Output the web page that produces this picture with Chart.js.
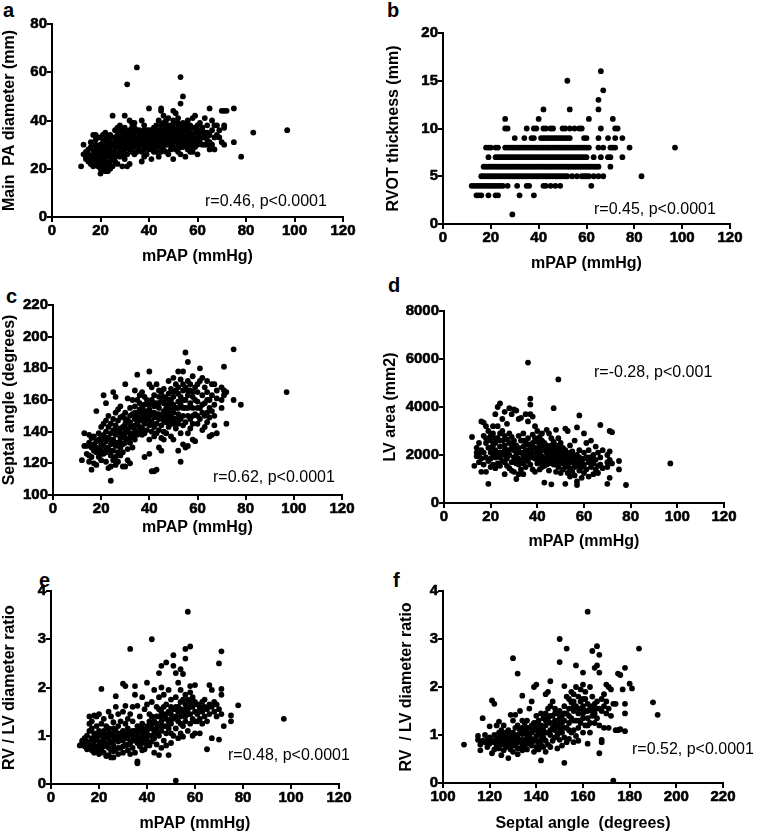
<!DOCTYPE html>
<html>
<head>
<meta charset="utf-8">
<script src="https://cdn.jsdelivr.net/npm/chart.js@4.4.0/dist/chart.umd.min.js"></script>
<style>
html,body{margin:0;padding:0;background:#fff;overflow:hidden;width:762px;height:832px;position:relative;}
canvas{position:absolute;}
.letter{position:absolute;font:bold 20px "Liberation Sans",Arial,sans-serif;line-height:20px;color:#000;}
</style>
</head>
<body>
<div class="letter" style="left:3px;top:0px">a</div>
<div class="letter" style="left:387px;top:0px">b</div>
<div class="letter" style="left:6px;top:286px">c</div>
<div class="letter" style="left:388px;top:275px">d</div>
<div class="letter" style="left:39px;top:570px">e</div>
<div class="letter" style="left:393px;top:570px">f</div>

<script>
// a : mPAP vs main PA diameter  [mPAP, diameter...]
var a_cols = [[12,21],[13,30,26],[14,27,25,24],[15,26,28,23],[16,25,29,22,31],[17,34,28,24,26,21],[18,34,30,27,22,25,32,29,24],
  [19,33,25,21,29,23,27],[20,18,20,27,30,24,33,22,26,29],[21,26,29,23,31,20,34],[22,35,27,21,25,30,32,19,28,23],[23,33,25,19,28,22,30],
  [24,31,23,20,27,34,26,29,25],[25,42,27,24,30,33,21],[26,33,27,29,36,23,31,30,25],[27,37,31,22,34,26,29],[28,38,29,32,25,35,27,31,33],
  [29,36,26,21,31,33,28],[30,42,24,30,34,28,37,32,26,35],[31,55,35,26,21,31,29,33],[32,40,33,22,28,36,30,31,34],[33,39,31,34,27,37,29],
  [34,37,29,32,35,26,39,30,33],[35,62,33,27,30,36,31],[36,36,28,33,31,34,30,35],[37,40,32,23,30,35,27],[38,38,30,25,33,36,32,28,34],
  [39,34,26,31,29,36],[40,45,31,34,28,36,33,30,32],[41,36,28,24,32,30,34],[42,37,30,33,35,27,31,29,34],[43,35,27,32,38,30],
  [44,33,25,40,29,36,31,34,32],[45,45,44,27,34,31,38,29],[46,42,36,28,33,39,31,35,30],[47,40,34,37,30,32,27],[48,41,32,26,35,38,30,33,36],
  [49,38,30,34,36,28,33],[50,44,24,33,37,29,31,35,40],[51,43,36,28,32,39,34],[52,41,39,30,35,33,27,32,37],[53,58,47,34,26,37,31,29],
  [54,50,32,29,36,39,34,31,38],[55,38,25,33,30,36],[56,40,36,28,32,34,30,38],[57,38,30,35,33,27],[58,41,34,27,37,31,33,29],[59,42,32,29,35,37],
  [60,26,35,31,33,38,30,36],[61,39,31,34],[62,36,33,37,30,34],[63,41,30,35,33],[64,35,32,38,30],[65,45,28,34,31],[66,40,30,36],
  [67,38,28,33],[68,34,38],[69,33,36],[70,44,31],[71,44,38,30,37],[72,44],[75,45,31],[78,25],[83,35],[97,36]];

// b : RVOT thickness rows  [thickness, mPAP...]
var b_rows = [[1,29],
  [3,14,15,16,19,22,23,32,38],
  [4,12,13,14,15,16,17,18,19,20,21,22,23,24,25,27,31,35,36,42,43,45,47,49,62],
  [5,16,17,18,19,20,21,22,23,24,25,26,27,28,29,30,31,32,33,34,35,36,37,38,39,40,41,42,43,44,45,46,47,48,49,50,51,52,54,56,58,59,60,61,63,65,67,83],
  [6,17,18,19,20,21,22,23,24,25,26,27,28,29,30,31,32,33,34,35,36,37,38,39,40,41,42,43,44,45,46,47,48,49,50,51,52,53,54,55,56,57,58,59,60,61,62,63,64,65,70],
  [7,19,22,23,24,25,26,27,28,29,30,31,32,33,34,35,36,37,38,39,40,41,42,43,44,45,46,47,48,49,50,51,52,53,54,55,56,57,58,59,60,63,66,69,70,75],
  [8,18,19,20,22,23,26,27,28,29,30,31,32,33,34,35,36,37,38,39,40,41,42,43,44,45,46,47,48,49,50,51,52,53,54,55,56,57,58,59,60,61,65,67,70,71,72,78,97],
  [9,30,34,37,38,41,42,43,44,45,46,47,48,49,50,51,52,53,59,60,65,69,72,75],
  [10,26,27,35,38,39,42,43,45,46,50,51,53,55,57,58,66,72,73],
  [11,26,40,61,71],[12,42,53,65],[13,65],[14,67],[15,52],[16,66]];

// c : mPAP vs septal angle
var c_cols = [[12,122],[13,139,131],[14,126,131],[15,125,138,121,133],[16,116,130,124,136],[17,128,137,120,132],
  [18,153,127,134,119,130],[19,135,129,124,139],[20,128,137,132,122,143,135,126],[21,163,131,138,126,145],[22,158,140,134,127,121,147,130,136],
  [23,136,129,143,117,150],[24,109,132,139,125,118,145,128,135],[25,165,148,135,128,122,141],[26,162,138,131,144,124,152,119,133,141],
  [27,154,133,140,127,147,121],[28,149,136,130,142,125,156,139,133],[29,118,143,137,150,132,127],[30,170,145,139,152,133,118,148,142,136],
  [31,161,141,135,122,147,129],[32,155,139,146,133,150,120,143,136],[33,160,143,137,151,130],[34,166,148,141,156,135,144,139,152],
  [35,176,152,145,138,160,149],[36,158,140,150,143,163,147,154],[37,165,147,138,155,142,152],[38,162,145,124,150,139,157,148,153],
  [39,160,148,141,153],[40,178,126,150,144,170,157,135,147,154],[41,168,152,115,140,160,146],[42,156,115,137,163,149,143,152,158],
  [43,170,116,145,158,151,139],[44,162,130,148,155,141,166,151,158],[45,150,136,159,144,165,128],[46,167,153,140,158,147,135,150,162],
  [47,155,146,161,139,150],[48,172,148,157,143,164,152,155,160],[49,160,137,150,167,145,155],[50,174,152,135,145,162,157,148,165],
  [51,166,148,155,142,170],[52,178,145,128,159,151,164,155,168],[53,173,121,157,148,139,162],[54,178,150,132,160,166,144,155,170],
  [55,190,168,146,130,155,160],[56,184,163,139,131,172,150,155,166],[57,166,148,158,142,170],[58,155,135,162,145,175,150,165],
  [59,160,151,134,168],[60,159,150,145,165,155,170],[61,180,155,148,172],[62,163,152,141,174,157],[63,168,158,143,150],
  [64,172,152,146,160,165],[65,160,137,155,149],[66,170,153,138,163],[67,170,150,157,144],[68,161,139,166],
  [70,168,160,155],[71,181,166,163],[72,145,165],[75,192,160],[78,157],[97,165]];

// d : mPAP vs LV area
var d_cols = [[12,2750],[13,1550],[14,2100,1950,2300],[15,2000,1700,2500],[16,3400,1300,2200,1850],[17,3350,2800,2100,1600],
  [18,3200,1300,2500,1900,2700],[19,800,2300,1750,3000],[20,2800,1500,2100,2600,1850,2300],[21,3200,2400,1600,2000,2900],
  [22,3700,2500,1900,1450,2200,2000,2700],[23,4000,2700,2100,1650,3200],[24,4150,2350,1550,1900,2900,2600,2100],[25,3500,2100,1750,2600,3000],
  [26,3800,1200,2400,2000,2800,2200,1700],[27,3300,2200,1550,2650,1850],[28,3950,2900,2000,1450,2500,2200],[29,3700,2300,1700,2750,1350],
  [30,3900,2600,1900,1300,2200,2400,1700],[31,3850,1000,2400,2050,1650],[32,3500,2800,1200,1850,2300,2100,1600],[33,3550,2100,1400,2600,1750],
  [34,2900,1650,2350,1200,2000,2600,1800],[35,3700,2500,1900,1500,2200],[36,5850,3400,2200,1750,2700,2000,2450],[37,4350,4100,3700,2400,1950,1600],
  [38,3600,2850,2100,1400,2500,1900,2300],[39,3200,2300,1850,2700,1300],[40,3000,1950,2550,1650,2250,2100,1800],[41,2750,2050,1400,2400,1800],
  [42,2600,2200,1700,2900,1950,2400,1500],[43,850,2500,1850,2250,1550],[44,3050,2100,1750,2400,1900,2200,1600],[45,2900,2300,1650,2000,1350],
  [46,780,2700,2150,1850,2400,1700,2000],[47,3950,2550,1950,1600,2250],[48,3050,2400,1800,1300,2100,1900,1600],[49,5150,2700,2000,1500,2300],
  [50,2500,1850,1250,2150,2000,1700],[51,2300,1650,2000,1400],[52,800,3100,2200,1700,1900,1500,2050],[53,3000,2050,1550,1250,1800],
  [54,2400,1900,1450,1100,1700,2100],[55,2150,1700,1300,1950],[56,2600,1800,1150,1500,1650,1950],[57,3150,750,2000,1600,900],
  [58,3650,1900,1350,2200,1700,1550],[59,1750,1050,1500],[60,2900,2100,1600,1250,1850],[61,2500,1400,1900],[62,2200,1700,1100,1900],
  [63,2600,1500,1900],[64,1200,2000,1650,1800],[65,2350,1400,1800],[66,2100,1550,1250],[67,3250,1900,1600],[68,2200,1450],
  [70,800,1700,1500,2000],[71,3000,1050,2150,1800],[72,2950,1650],[75,1750,1400],[78,750],[97,1650]];

// e : mPAP vs RV/LV ratio
var e_cols = [[12,0.8],[13,0.85,0.9],[14,0.78,0.95],[15,0.88,0.72,1.0],[16,1.4,1.25,0.85,1.1,0.78],[17,1.3,0.95,0.7,1.15],
  [18,1.42,0.65,0.9,1.05,0.8,0.95],[19,1.4,1.2,0.75,0.98,0.68],[20,1.45,0.88,1.1,0.62,0.8,1.0,0.72],[21,1.97,1.0,0.72,0.85,1.25],
  [22,1.35,0.65,0.92,1.1,0.78,0.85,1.0],[23,0.58,1.0,0.83,1.2],[24,1.5,0.6,0.95,0.75,1.15,0.85,1.05],[25,1.4,0.55,0.88,1.05,0.7],
  [26,1.28,0.55,0.8,1.0,1.15,0.9,0.68],[27,1.82,1.6,0.95,0.72,1.1],[28,1.45,0.62,0.88,1.2,1.0,0.75],[29,1.05,0.75,0.95,1.3],
  [30,2.08,1.5,0.65,0.9,1.1,1.0,0.78],[31,2.03,1.62,0.8,1.0,1.25],[32,1.35,0.7,0.95,1.15,1.05,0.82],[33,2.8,1.45,0.85,1.05,0.62],
  [34,1.3,0.75,1.0,1.6,0.9,1.1],[35,2.03,1.85,0.65,1.1,0.9],[36,0.43,0.47,1.62,1.2,0.85,1.0,1.1,0.92],[37,1.4,0.78,0.95,1.15],
  [38,1.8,1.25,0.85,1.05,0.7,0.95,1.15],[39,1.55,0.95,1.1,0.72],[40,2.1,1.65,0.9,1.2,1.02,1.1,0.8],[41,1.45,0.8,1.0,1.3],
  [42,3.0,1.7,1.15,0.88,1.4,1.0,1.25],[43,1.95,1.3,0.95,1.1,0.65],[44,1.6,1.05,0.82,1.25,1.15,1.4],[45,2.3,1.8,1.4,0.6,1.0,1.55],
  [46,2.45,2.0,1.5,1.1,0.75,1.3,1.2,1.4],[47,1.85,1.2,0.9,1.6,1.42],[48,2.52,1.65,1.05,1.35,0.8,1.45,1.2],[49,1.95,1.5,1.15,0.6,1.3],
  [50,1.75,1.45,1.25,0.85,1.6,1.35,1.05],[51,2.67,2.45,1.55,1.0,1.35],[52,0.07,2.3,1.8,1.4,1.15,1.55,1.6],[53,2.1,1.6,0.95,1.3,1.5],
  [54,2.38,1.95,1.05,1.7,1.4,1.55,1.25],[55,2.28,1.5,1.2,0.98,1.75],[56,2.8,2.6,1.65,1.3,1.85,1.4,1.55],[57,3.57,1.75,1.1,1.45,1.55],
  [58,2.85,2.03,1.6,1.25,1.9,1.45,1.7],[59,1.8,1.35,1.0,1.6],[60,2.05,1.5,1.05,1.7,1.3],[61,1.3,1.65,1.45],[62,1.55,1.35,1.05,1.6],
  [63,1.7,1.25,1.5],[64,1.75,1.4,1.6],[65,0.72,1.55,1.3],[66,2.05,1.45,1.65],[67,1.95,0.95,1.6],[68,1.7,1.5],
  [69,1.65,1.4],[70,2.5,0.92,1.55],[71,2.75,1.97,1.85,1.45],[72,1.2],[75,1.42,1.3],[78,1.63],[97,1.35]];

// f : septal angle vs RV/LV ratio
var f_pts_cols = [[109,0.8],[115,0.98,0.9],[116,0.68,0.8],[117,1.35,0.88],[118,0.85,1.0],[119,0.75,0.9],[120,1.18,0.82,0.95,0.88],
  [121,1.72,0.62,0.88],[122,1.65,1.0,0.7,0.85],[123,1.2,0.78,0.92],[124,1.28,0.85,1.05,0.72,0.95],[125,0.58,0.95,0.8,1.1],
  [126,1.0,0.68,0.88,1.2,0.8],[127,0.75,1.05,0.9],[128,0.52,1.1,0.82,0.95,0.75,1.0],[129,1.42,0.7,0.98,0.85],[130,2.6,1.3,0.88,1.05,0.65,0.95,0.78],
  [131,1.42,0.78,0.95,1.15],[132,2.28,1.2,0.6,0.85,1.0,0.92,0.72],[133,1.5,0.72,1.1,0.9],[134,1.82,0.8,1.02,1.3,0.68,0.9,1.15],
  [135,1.1,0.88,0.75,1.25],[136,1.3,0.95,0.7,1.05,0.85,1.15],[137,1.55,0.82,1.0,1.15],[138,1.7,1.05,0.78,0.92,0.85,1.2],
  [139,2.0,1.25,0.88,0.65,1.1],[140,2.05,1.4,0.98,0.75,1.15,0.88,1.25],[141,1.3,0.85,1.05,0.7],[142,1.45,0.47,1.0,1.2,0.9,1.1,0.8],
  [143,1.35,0.75,1.1,0.95],[144,1.85,1.45,0.88,0.65,1.2,1.05,1.3],[145,1.9,1.05,1.35,0.8,1.55],[146,2.12,1.6,1.0,1.25,0.75,1.1,1.4],
  [147,1.7,1.15,0.88,1.4],[148,1.55,1.3,0.95,1.1,1.2,1.45],[149,1.45,0.72,1.2,1.0],[150,3.0,2.52,1.5,1.15,0.9,1.35,1.25,1.05],
  [151,1.4,1.05,0.78,1.25],[152,2.02,0.42,1.3,0.95,1.6,1.15,1.45],[153,2.8,1.8,1.15,0.85,1.45],[154,1.75,1.25,0.92,1.55,1.4,1.1],
  [155,1.68,1.35,1.05,1.9],[156,1.85,1.5,1.1,0.85,1.7,1.3,1.6],[157,2.45,2.0,1.6,1.3,0.98],[158,1.8,1.45,1.15,0.88,1.55,1.3],
  [159,1.95,1.55,1.25,1.7],[160,2.3,2.05,1.6,1.35,1.05,1.45,1.75],[161,1.9,1.5,1.2,1.75],[162,3.57,1.65,1.35,0.82,1.5,1.2],
  [163,2.0,1.55,1.25,1.05],[164,2.75,1.6,1.4,1.8,1.5],[165,2.4,1.45,1.25,1.65],[166,2.85,2.45,1.7,1.35,1.55],
  [167,2.67,2.3,0.62,1.55,1.2],[168,1.75,0.9,0.85,1.5],[169,1.85,1.6,1.15],[170,2.05,1.7,1.45],[171,2.0,1.15,1.55],
  [172,1.95,1.4],[173,0.05,1.65],[174,1.65,1.1],[175,2.28,1.1],[176,2.25,1.12],[177,1.95],[178,2.4,1.65,1.45,1.08],
  [180,2.07],[181,1.97],[184,2.8],[190,1.68],[192,1.42]];

// axis titles and notes
var v_xtitles = ["mPAP (mmHg)","mPAP (mmHg)","mPAP (mmHg)","mPAP (mmHg)","mPAP (mmHg)","Septal angle  (degrees)"];
var v_ytitles = ["Main  PA diameter (mm)","RVOT thickness (mm)","Septal angle (degrees)","LV area (mm2)","RV / LV diameter ratio","RV  / LV diameter ratio"];
var v_notes = ["r=0.46, p<0.0001","r=0.45, p<0.0001","r=0.62, p<0.0001","r=-0.28, p<0.001","r=0.48, p<0.0001","r=0.52, p<0.0001"];
// axis ranges [min, max, step]
var v_xrange = [[0,120,20],[0,120,20],[0,120,20],[0,120,20],[0,120,20],[100,220,20]];
var v_yrange = [[0,80,20],[0,20,5],[100,220,20],[0,8000,2000],[0,4,1],[0,4,1]];

// 열 단위 배열 -> 점
function f_fromcols(p_cols){
  var v_pts = [];
  for(var a=0; a<p_cols.length; a++){
    for(var b=1; b<p_cols[a].length; b++){
      v_pts.push({x:p_cols[a][0], y:p_cols[a][b]});
    }
  }
  return v_pts;
}
// 행 단위 배열 -> 점
function f_fromrows(p_rows){
  var v_pts = [];
  for(var a=0; a<p_rows.length; a++){
    for(var b=1; b<p_rows[a].length; b++){
      v_pts.push({x:p_rows[a][b], y:p_rows[a][0]});
    }
  }
  return v_pts;
}

var v_data = [f_fromcols(a_cols), f_fromrows(b_rows), f_fromcols(c_cols), f_fromcols(d_cols), f_fromcols(e_cols), f_fromcols(f_pts_cols)];

// layout: canvas box [left,top,w,h], plot area [L,T,R,B] inside canvas, title paddings, note position
var v_layout = [
  {box:[0,0,381,270],     area:[52,24,343,217], xpad:3.4, ypad:0,  note:[205,206]},
  {box:[381,0,381,280],   area:[62,33,349,224], xpad:6.4, ypad:3,  note:[213,214]},
  {box:[0,270,381,275],   area:[53,35,342,225], xpad:7.4, ypad:0,  note:[213,212]},
  {box:[381,270,381,285], area:[63,41,343,233], xpad:3.4, ypad:0,  note:[213,107]},
  {box:[0,550,381,290],   area:[51,41,339,234], xpad:6.4, ypad:0,  note:[228,210]},
  {box:[381,550,381,290], area:[62,41,342,233], xpad:6.4, ypad:16, note:[251,204]}
];

var v_font = '"Liberation Sans", Arial, sans-serif';

// 눈금 글자 + r,p 글자 찍기
var notePlugin = {
  id:"note",
  afterDraw:function(chart){
    var o = chart.options.plugins.note;
    var ctx = chart.ctx;
    var sx = chart.scales.x, sy = chart.scales.y, ca = chart.chartArea;
    ctx.save();
    ctx.fillStyle = "#000";
    ctx.strokeStyle = "#000";
    ctx.lineWidth = 0.6;
    ctx.lineJoin = "round";
    ctx.font = "bold 15px " + v_font;
    ctx.textAlign = "center";
    ctx.textBaseline = "top";
    for(var a=0; a<sx.ticks.length; a++){
      var v_t = String(sx.ticks[a].value), v_px = sx.getPixelForValue(sx.ticks[a].value);
      ctx.fillText(v_t, v_px, ca.bottom + 6);
      ctx.strokeText(v_t, v_px, ca.bottom + 6);
    }
    ctx.textAlign = "right";
    ctx.textBaseline = "middle";
    for(var b=0; b<sy.ticks.length; b++){
      var v_s = String(sy.ticks[b].value), v_py = sy.getPixelForValue(sy.ticks[b].value);
      ctx.fillText(v_s, ca.left - 5, v_py);
      ctx.strokeText(v_s, ca.left - 5, v_py);
    }
    ctx.font = "16px " + v_font;
    ctx.textBaseline = "alphabetic";
    ctx.textAlign = "left";
    ctx.fillText(o.text, o.x, o.y);
    ctx.restore();
  }
};

function f_chart(i){
  var L = v_layout[i];
  var cv = document.createElement("canvas");
  cv.width = L.box[2]; cv.height = L.box[3];
  cv.style.left = L.box[0]+"px"; cv.style.top = L.box[1]+"px";
  cv.style.width = L.box[2]+"px"; cv.style.height = L.box[3]+"px";
  document.body.appendChild(cv);
  var yW = L.area[0], xH = L.box[3]-L.area[3];
  var titleFont = {family:v_font, size:16, weight:"bold"};
  var gridOpt = {drawOnChartArea:false, drawTicks:true, tickLength:5, color:"#000", lineWidth:2};
  new Chart(cv.getContext("2d"), {
    type:"scatter",
    data:{datasets:[{data:v_data[i], pointRadius:2.9, pointHoverRadius:2.9, pointBackgroundColor:"#000", pointBorderWidth:0, showLine:false}]},
    options:{
      responsive:false, animation:false, devicePixelRatio:1,
      layout:{padding:{left:0, top:L.area[1], right:L.box[2]-L.area[2], bottom:0}},
      plugins:{legend:{display:false}, tooltip:{enabled:false}, note:{text:v_notes[i], x:L.note[0], y:L.note[1]}},
      scales:{
        x:{type:"linear", position:"bottom", min:v_xrange[i][0], max:v_xrange[i][1],
          afterFit:function(s){ s.height = xH; },
          ticks:{stepSize:v_xrange[i][2], display:false, autoSkip:false},
          grid:gridOpt, border:{display:true, color:"#000", width:2},
          title:{display:true, text:v_xtitles[i], font:titleFont, color:"#000", padding:{top:0, bottom:L.xpad}}},
        y:{type:"linear", position:"left", min:v_yrange[i][0], max:v_yrange[i][1],
          afterFit:function(s){ s.width = yW; },
          ticks:{stepSize:v_yrange[i][2], display:false, autoSkip:false},
          grid:gridOpt, border:{display:true, color:"#000", width:2},
          title:{display:true, text:v_ytitles[i], font:titleFont, color:"#000", padding:{top:L.ypad, bottom:0}}}
      }
    },
    plugins:[notePlugin]
  });
}

for(var a=0; a<6; a++){ f_chart(a); }
</script>
</body>
</html>
